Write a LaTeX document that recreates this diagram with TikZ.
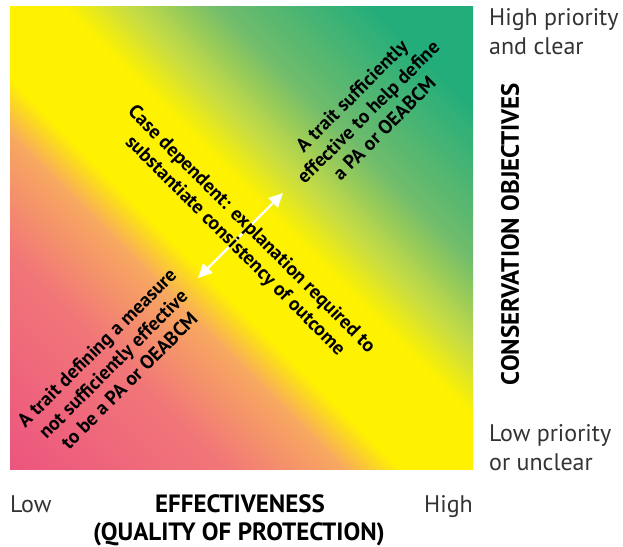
\documentclass[tikz,border=0pt]{standalone}
\usepackage{fontspec}
\setmainfont{PT Sans}
\usetikzlibrary{arrows.meta}

\definecolor{lowpink}{RGB}{236,86,126}
\definecolor{midpink}{RGB}{241,118,120}
\definecolor{midorange}{RGB}{247,168,96}
\definecolor{midyellow}{RGB}{255,242,0}
\definecolor{limegreen}{RGB}{198,220,68}
\definecolor{lightgreen}{RGB}{112,188,108}
\definecolor{highgreen}{RGB}{34,173,122}

\pgfdeclarehorizontalshading{protection}{100bp}{color(0bp)=(lowpink); color(15bp)=(lowpink); color(31bp)=(midpink); color(40bp)=(midorange); color(44.5bp)=(midyellow); color(54bp)=(midyellow); color(59bp)=(limegreen); color(66bp)=(lightgreen); color(78bp)=(highgreen); color(100bp)=(highgreen)}

\tikzset{
	diagtext/.style={font=\bfseries\fontsize{19.5}{23}\selectfont, align=center, inner sep=0pt},
	axisword/.style={font=\fontsize{24}{29}\selectfont, text=black!80, inner sep=0pt},
	axisbold/.style={font=\bfseries\fontsize{25}{28}\selectfont, inner sep=0pt},
	whitearrow/.style={white, line width=2.3pt, {Triangle[length=14pt,width=13pt]}-{Triangle[length=14pt,width=13pt]}}
}

\begin{document}
\begin{tikzpicture}[x=1pt,y=-1pt]
	\useasboundingbox (0,0) rectangle (623,546);
	
	\shade[shading=protection, shading angle=45] (10,6) rectangle (473,469);
	
	\coordinate (lowend) at (198,278);
	\coordinate (highend) at (283,193);
	\draw[whitearrow] (lowend) -- (highend);
	
	\node[diagtext, rotate=-45] (casedep) at (243,238) {Case dependent: explanation required to\\substantiate consistency of outcome};
	\node[diagtext, rotate=45] (sufficient) at (368,112) {A trait sufficiently\\effective to help define\\a PA or OEABCM};
	\node[diagtext, rotate=45] (notsufficient) at (113,364) {A trait defining a measure\\not sufficiently effective\\to be a PA or OEABCM};
	
	\node[axisword, anchor=base west] (lowx) at (10,512) {Low};
	\node[axisbold, anchor=base] (effx) at (240,512) {EFFECTIVENESS};
	\node[axisbold, anchor=base] (qualityx) at (239,540) {(QUALITY OF PROTECTION)};
	\node[axisword, anchor=base east] (highx) at (473,512) {High};
	
	\node[axisword, anchor=base west, align=left] (highy) at (489,54) {High priority\\and clear};
	\node[axisword, anchor=base west, align=left] (lowy) at (489,470) {Low priority\\or unclear};
	\node[axisbold, rotate=90] (consy) at (510,234) {CONSERVATION OBJECTIVES};
\end{tikzpicture}
\end{document}
